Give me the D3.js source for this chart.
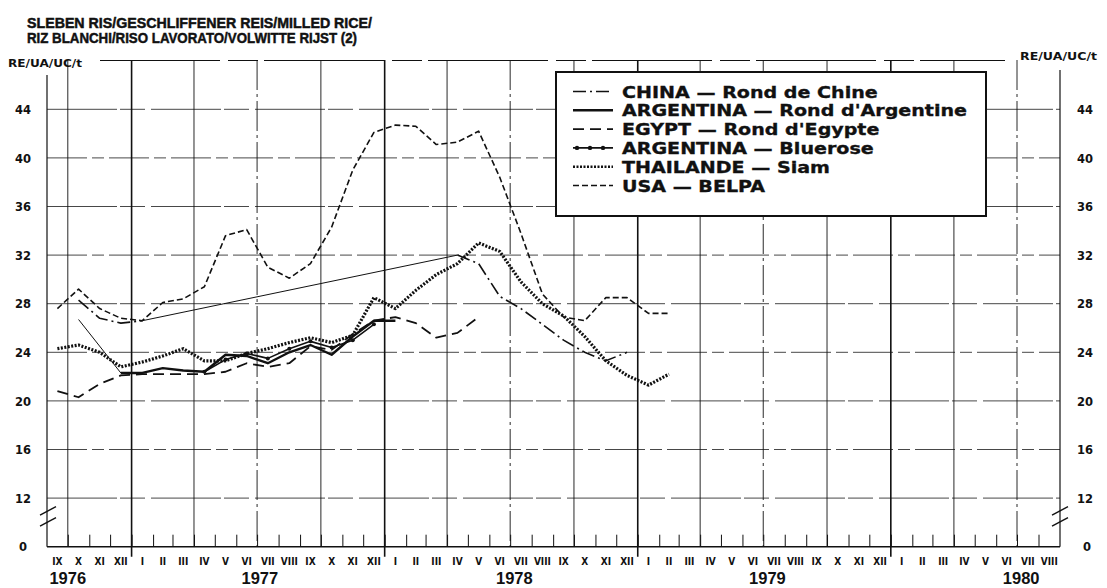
<!DOCTYPE html>
<html><head><meta charset="utf-8">
<script src="https://cdn.jsdelivr.net/npm/d3@7"></script>
<style>
body{margin:0;background:#fff;}
svg{display:block;}
</style></head><body>
<svg id="c" width="1107" height="588"></svg>
<script>
// ---------- DATA ----------
const titleLines = ["SLEBEN RIS/GESCHLIFFENER REIS/MILLED RICE/", "RIZ BLANCHI/RISO LAVORATO/VOLWITTE RIJST (2)"];
const unitLabel = "RE/UA/UC/t";
const romanMonths = ["I","II","III","IV","V","VI","VII","VIII","IX","X","XI","XII"];
const yTicks = [12,16,20,24,28,32,36,40,44];
const baselineLabel = "0";
const years = ["1976","1977","1978","1979","1980"];
const yearLabelDates = ["1976-10-01","1977-07-05","1978-07-07","1979-07-07","1980-07-07"];
// monthly series, first value = IX 1976 (null = no quotation)
const china      = [null,28.3,26.8,26.4,26.6,null,null,null,null,null,null,null,null,null,null,null,null,null,null,32.0,31.3,28.6,27.6,26.3,25.0,24.0,23.3,24.0];
const argRond    = [null,26.7,null,22.3,22.3,22.7,22.5,22.4,23.8,23.7,23.1,24.0,24.6,23.8,25.3,26.6,26.6];
const egypt      = [20.8,20.3,21.4,22.1,22.2,22.2,22.2,22.2,22.4,23.1,22.8,23.1,24.5,24.2,25.5,26.6,26.9,26.4,25.2,25.6,26.9];
const bluerose   = [null,null,null,null,null,null,null,22.4,23.4,23.9,23.5,24.3,24.9,24.4,25.0,26.3];
const thailand   = [24.3,24.6,24.0,22.8,23.2,23.7,24.3,23.3,23.3,23.9,24.3,24.8,25.2,24.8,25.4,28.5,27.6,29.1,30.4,31.3,33.0,32.3,29.8,28.0,27.0,25.3,23.3,22.1,21.3,22.2];
const usaBelpa   = [27.6,29.2,27.6,26.8,26.6,28.1,28.4,29.4,33.6,34.1,31.0,30.1,31.3,34.3,39.0,42.1,42.7,42.6,41.1,41.3,42.2,38.4,33.8,28.8,26.9,26.6,28.5,28.5,27.2,27.2];
const seriesNames = ["CHINA — Rond de Chine","ARGENTINA — Rond d'Argentine","EGYPT — Rond d'Egypte","ARGENTINA — Bluerose","THAILANDE — Siam","USA — BELPA"];

// ---------- STYLES ----------
const styles = [
  {w:1.6, dash:"13,4,2,4", dots:false},
  {w:2.4, dash:null, dots:false},
  {w:1.8, dash:"11,6", dots:false},
  {w:1.6, dash:null, dots:true},
  {w:3.2, dash:"2,1.5", dots:false},
  {w:1.6, dash:"6,3", dots:false}
];
const allSeries = [china, argRond, egypt, bluerose, thailand, usaBelpa];

const svg = d3.select("#c");
const start = new Date(1976,8,1), end = new Date(1980,8,1);
const x = d3.scaleTime().domain([start,end]).range([47,1060]);
const y = d3.scaleLinear().domain([8,44]).range([546.7,109.3]);
const months = d3.timeMonth.range(start, end);
const mid = d => new Date((d.getTime() + d3.timeMonth.offset(d,1).getTime())/2);
const X0 = x.range()[0], X1 = x.range()[1], YB = y(8);
const ink = "#111";

// title
const sans = "'DejaVu Sans', sans-serif";
const helv = "'Liberation Sans', Arial, sans-serif";
titleLines.forEach((t,i)=>{
  svg.append("text").attr("x",27).attr("y",[28,43][i]).text(t)
    .attr("font-family",helv).attr("font-weight","bold").attr("font-size",15.5)
    .attr("stroke",ink).attr("stroke-width",0.5)
    .attr("textLength",[345,330][i]).attr("lengthAdjust","spacingAndGlyphs").attr("fill",ink);
});
// unit labels
svg.append("text").attr("x",8).attr("y",66.5).text(unitLabel).attr("font-family",sans)
  .attr("font-weight","bold").attr("font-size",10.5).attr("fill",ink).attr("textLength",74).attr("lengthAdjust","spacingAndGlyphs");
svg.append("text").attr("x",1020).attr("y",60).text(unitLabel).attr("font-family",sans)
  .attr("font-weight","bold").attr("font-size",10.5).attr("fill",ink).attr("textLength",77).attr("lengthAdjust","spacingAndGlyphs");

// horizontal grid
const grid = svg.append("g");
grid.selectAll("line.h").data(yTicks).join("line")
  .attr("x1",X0).attr("x2",X1).attr("y1",d=>y(d)).attr("y2",d=>y(d))
  .attr("stroke","#333").attr("stroke-width",0.9)
  .attr("stroke-dasharray",(d,i)=> i%2 ? "40,5,12,5" : "70,3,25,6");
// vertical quarter grid + year lines
const boundaries = d3.timeMonth.range(start, d3.timeMonth.offset(end,1));
const quarterLines = boundaries.filter(d=> d.getMonth()%3===0 && +d!==+start && +d<+end);
grid.selectAll("line.v").data(quarterLines).join("line")
  .attr("x1",d=>x(d)).attr("x2",d=>x(d))
  .attr("y1",60).attr("y2",d=> d.getMonth()===0 ? YB+10 : YB)
  .attr("stroke",ink)
  .attr("stroke-width",d=> d.getMonth()===0 ? 1.6 : 0.9)
  .attr("stroke-dasharray",(d,i)=> d.getMonth()===0 ? null : (i%2 ? "30,4,3,4" : null));
// top frame
svg.append("line").attr("x1",100).attr("x2",1005).attr("y1",60.5).attr("y2",60.5)
  .attr("stroke",ink).attr("stroke-width",1).attr("stroke-dasharray","120,8,30,6");
// axes
svg.append("line").attr("x1",X0).attr("x2",X0).attr("y1",75).attr("y2",YB).attr("stroke",ink).attr("stroke-width",1.2);
svg.append("line").attr("x1",X1).attr("x2",X1).attr("y1",70).attr("y2",YB).attr("stroke",ink).attr("stroke-width",1.2);
svg.append("line").attr("x1",X0).attr("x2",X1).attr("y1",YB).attr("y2",YB).attr("stroke",ink).attr("stroke-width",1.4);

// month ticks via axis
const xAxis = d3.axisBottom(x).tickValues(boundaries.slice(1,-1)).tickSize(-12).tickFormat("");
const gx = svg.append("g").attr("transform",`translate(0,${YB})`).call(xAxis);
gx.select(".domain").remove();
gx.selectAll(".tick line").attr("stroke",ink).attr("stroke-width",1);
// month labels
svg.append("g").selectAll("text").data(months).join("text")
  .attr("x",d=>x(mid(d))).attr("y",565).attr("text-anchor","middle")
  .attr("font-family","'Liberation Sans Narrow','DejaVu Sans Condensed',sans-serif").attr("font-weight","bold")
  .attr("font-size",10).attr("fill",ink).text(d=>romanMonths[d.getMonth()]);
// year labels
svg.append("g").selectAll("text").data(years).join("text")
  .attr("x",(d,i)=>x(new Date(yearLabelDates[i]+"T00:00:00"))).attr("y",584).attr("text-anchor","middle")
  .attr("font-family",helv).attr("font-weight","bold")
  .attr("font-size",16.5).attr("fill",ink).text(d=>d);

// y axis labels (left and right)
const yl = d3.axisLeft(y).tickValues(yTicks).tickSize(0).tickPadding(0);
[23,1085].forEach(px=>{
  const g = svg.append("g").attr("transform",`translate(${px},0)`).call(yl);
  g.select(".domain").remove();
  g.selectAll("text").attr("text-anchor","middle").attr("dy","0.36em").attr("x",0)
    .attr("font-family",sans).attr("font-weight","bold").attr("font-size",11.5).attr("fill",ink);
  g.append("text").attr("x", px===23 ? 0 : 2).attr("y",YB).attr("dy","0.36em").attr("text-anchor","middle")
    .attr("font-family",sans).attr("font-weight","bold").attr("font-size",11.5).attr("fill",ink).text(baselineLabel);
});
// axis break marks
[[40,56],[1052,1068]].forEach(([a,b])=>{
  [0,11].forEach(o=>{
    svg.append("line").attr("x1",a).attr("x2",b).attr("y1",y(10.6)+o).attr("y2",y(11.3)+o)
      .attr("stroke",ink).attr("stroke-width",1.4);
  });
});

// series
const line = d3.line().defined(d=>d.v!=null).x(d=>x(d.date)).y(d=>y(d.v));
const plot = svg.append("g");
allSeries.forEach((vals,si)=>{
  const pts = vals.map((v,i)=>({date:mid(months[i]), v}));
  const st = styles[si];
  const def = pts.filter(p=>p.v!=null);
  for(let k=1;k<def.length;k++){
    const ia = pts.indexOf(def[k-1]), ib = pts.indexOf(def[k]);
    if(ib-ia>1){
      plot.append("line").attr("x1",x(def[k-1].date)).attr("y1",y(def[k-1].v))
        .attr("x2",x(def[k].date)).attr("y2",y(def[k].v)).attr("stroke",ink).attr("stroke-width",1);
    }
  }
  plot.append("path").datum(pts).attr("d",line).attr("fill","none")
    .attr("stroke",ink).attr("stroke-width",st.w).attr("stroke-dasharray",st.dash)
    .attr("stroke-linejoin","round");
  if(st.dots){
    plot.selectAll(null).data(def).join("circle").attr("cx",d=>x(d.date)).attr("cy",d=>y(d.v))
      .attr("r",2).attr("fill",ink);
  }
});

// legend
const lg = svg.append("g");
lg.append("rect").attr("x",556).attr("y",72).attr("width",430).attr("height",144)
  .attr("fill","#fff").attr("stroke",ink).attr("stroke-width",2);
seriesNames.forEach((name,i)=>{
  const by = 97.5 + i*18.8, cy = by - 6;
  const st = styles[i];
  lg.append("line").attr("x1",573).attr("x2",613).attr("y1",cy).attr("y2",cy)
    .attr("stroke",ink).attr("stroke-width",Math.min(st.w,2.4)).attr("stroke-dasharray",st.dash);
  if(st.dots){[577,590,603].forEach(cx=>lg.append("circle").attr("cx",cx).attr("cy",cy).attr("r",2.2).attr("fill",ink));}
  lg.append("text").attr("x",0).attr("y",0).attr("transform",`translate(622,${by}) scale(1.15,1)`)
    .attr("font-family",sans).attr("font-weight","bold").attr("font-size",16.6)
    .attr("stroke",ink).attr("stroke-width",0.35).attr("fill",ink).text(name);
});
</script>
</body></html>
